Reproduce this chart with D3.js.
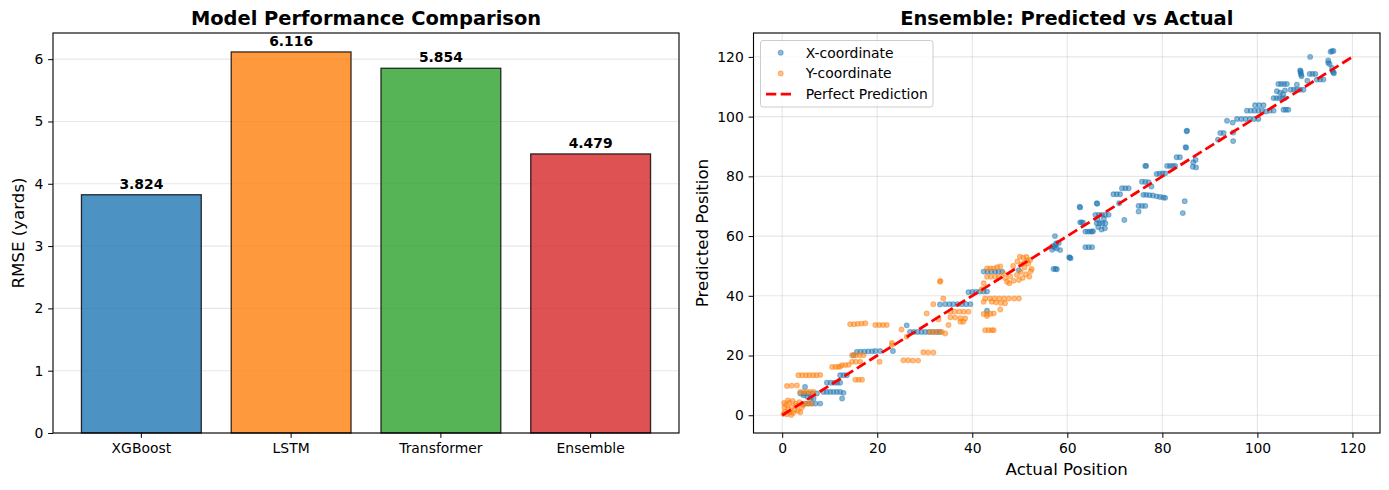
<!DOCTYPE html>
<html>
<head>
<meta charset="utf-8">
<script src="https://cdn.jsdelivr.net/npm/d3@7"></script>
<style>
body { margin: 0; background: #fff; }
text { font-family: "DejaVu Sans", sans-serif; fill: #000; }
.tick text { font-size: 13.9px; }
.grid line { stroke: #b0b0b0; stroke-opacity: 0.3; stroke-width: 1.1px; }
.title { font-size: 19.44px; font-weight: bold; }
.axisLabel { font-size: 16.67px; }
.barLabel { font-size: 13.9px; font-weight: bold; }
</style>
</head>
<body>
<div id="THE_CONTAINER"></div>
<script>

const models = ["XGBoost", "LSTM", "Transformer", "Ensemble"];
const rmse = [3.824, 6.116, 5.854, 4.479];
const barColors = ["#1f77b4", "#ff7f0e", "#2ca02c", "#d62728"];
const rmseTicks = [0, 1, 2, 3, 4, 5, 6];
const posTicks = [0, 20, 40, 60, 80, 100, 120];

// [actual, predicted] — X coordinate
const xCoord = [
  [4.8,3.9],[5.5,3.9],[6.2,3.9],[7.0,3.9],[8.0,3.9],
  [4.5,6.7],[5.3,6.2],[6.0,5.8],[6.6,5.6],
  [3.8,7.3],[4.6,7.3],[5.5,7.3],[6.4,7.3],[7.3,7.3],[4.8,9.5],
  [8.7,7.8],[9.4,7.8],[10.1,7.8],[10.8,7.8],[11.5,7.8],[12.2,7.8],[12.9,7.5],[12.6,5.6],
  [9.4,10.9],[10.2,10.9],[11.0,10.9],[11.6,10.9],[12.2,10.9],
  [12.2,13.4],[12.9,13.4],[13.6,13.4],[15.0,20.1],
  [15.7,21.2],[16.5,21.3],[17.3,21.3],[18.1,21.4],[18.9,21.4],[19.6,21.5],[20.6,21.5],[23.3,21.5],
  [26.2,30.1],
  [26.9,27.9],[27.7,27.9],[28.5,27.9],[29.3,27.9],[30.1,27.9],[30.9,27.9],[31.7,27.9],[32.5,27.9],[33.2,27.9],
  [33.2,37.1],[34.3,37.2],[35.2,37.2],[36.0,37.2],[36.9,37.2],[37.8,37.2],[38.7,37.2],[39.6,37.2],
  [39.2,41.2],[40.0,41.3],[40.8,41.3],[41.6,41.4],[42.4,41.4],[43.1,41.4],[43.1,35.0],
  [42.4,48.1],[43.2,48.1],[44.0,48.1],[44.8,48.1],[45.5,48.1],[46.3,48.1],[49.8,48.6],
  [56.8,55.4],[57.3,56.2],[57.8,55.8],[58.5,55.3],[57.5,57.0],[56.9,56.6],[58.2,57.7],
  [57.4,60.0],[57.7,57.6],[57.1,49.0],[57.5,49.0],[57.8,48.9],
  [60.5,52.8],[60.7,52.6],[60.4,52.9],[62.6,69.8],[62.7,69.6],
  [62.7,64.6],[63.0,64.6],[63.3,64.5],
  [63.8,61.5],[64.3,61.5],[64.8,61.5],[65.2,61.5],[65.4,61.6],
  [63.8,56.3],[64.5,56.3],[65.2,56.3],[66.2,71.0],[66.3,70.8],
  [65.9,67.1],[66.6,67.1],[67.3,67.1],[68.0,67.1],[68.7,67.1],
  [66.2,64.3],[66.8,64.3],[67.4,64.3],[68.0,64.3],
  [66.5,63.0],[67.2,62.2],[67.9,62.6],[66.4,65.5],[67.7,65.8],
  [69.7,74.0],[70.4,74.0],[71.1,74.0],[70.9,71.0],
  [71.5,76.0],[72.2,76.0],[72.9,76.0],[72.0,65.4],
  [75.0,70.1],[75.7,70.1],[76.4,70.1],[75.0,68.2],
  [75.7,78.2],[76.4,78.1],[77.1,78.0],[76.4,83.5],[76.6,83.5],[77.7,76.6],
  [76.0,73.8],[76.6,73.8],[77.3,73.7],[78.0,73.6],[78.8,73.3],[79.5,73.1],[80.2,72.9],[80.6,72.8],
  [78.8,80.8],[79.4,80.9],[80.0,81.0],[80.6,81.0],
  [81.0,83.5],[81.6,83.5],[82.2,83.5],[82.7,83.5],[83.0,86.4],[83.7,86.4],
  [84.7,71.7],[84.3,67.7],[85.2,95.3],[85.1,95.1],[84.9,89.8],[85.0,89.6],
  [86.5,84.7],[86.4,83.2],[87.1,83.0],[87.0,85.5],
  [91.7,92.3],[92.2,94.5],[92.9,94.5],[94.9,94.7],[94.9,91.8],[93.6,98.6],[94.8,98.0],
  [95.7,99.2],[96.6,99.2],[97.5,99.2],[98.4,99.2],[99.3,99.2],[100.2,99.2],
  [97.8,102.0],[98.6,102.0],[99.4,102.0],[100.2,102.0],[101.0,102.0],[101.8,101.7],[102.6,102.0],[103.4,102.0],
  [99.5,103.8],[100.4,103.8],[101.3,103.8],
  [103.4,106.2],[104.0,106.2],[104.6,106.2],[105.2,106.2],[105.8,106.2],
  [105.5,102.3],[106.0,102.3],[106.5,102.3],
  [104.1,108.5],[104.8,108.0],[105.4,107.5],[105.8,108.8],
  [104.4,110.9],[105.0,110.9],[105.6,110.9],[106.2,110.9],
  [107.0,109.0],[107.7,109.0],[108.3,109.0],[109.0,109.0],[109.7,109.0],[108.3,110.7],
  [109.1,115.2],[109.1,114.6],[109.2,114.0],[109.3,113.5],[109.0,115.5],
  [111.0,114.3],[111.6,114.3],[112.2,114.3],
  [110.5,112.0],[112.5,112.4],[113.2,112.4],[113.9,112.4],
  [111.1,120.0],[114.9,118.8],[114.9,118.0],[115.2,117.6],[115.7,116.3],
  [115.7,121.9],[116.0,122.0],[115.4,121.7],[116.0,114.8],[115.8,115.3],[116.1,114.5]
];

// [actual, predicted] — Y coordinate
const yCoord = [
  [0.3,0.5],[0.6,1.2],[1.0,0.3],[1.3,2.0],[1.6,1.0],[2.0,2.8],[2.3,0.8],[2.6,1.8],[3.0,3.2],[3.3,1.5],
  [0.8,3.5],[1.5,4.2],[2.2,4.8],[3.6,4.4],[4.1,2.6],[0.5,2.6],[1.9,0.1],[2.8,3.9],[3.8,1.0],[4.4,3.4],
  [1.2,5.0],[0.4,4.1],[4.8,3.9],[5.5,3.9],[6.2,3.9],
  [3.8,7.8],[4.5,7.8],[5.2,7.8],[5.9,7.8],[6.6,7.8],
  [1.0,9.8],[2.0,9.9],[3.1,10.0],
  [3.4,13.4],[4.2,13.4],[5.0,13.4],[5.7,13.4],[6.5,13.4],[7.2,13.4],[8.0,13.5],
  [10.5,16.2],[11.2,16.2],[11.8,16.2],[12.2,16.3],[12.6,16.8],[13.3,16.8],[14.0,16.9],
  [14.7,17.9],[15.5,17.9],[16.4,17.9],
  [14.7,20.1],[15.5,20.1],[16.3,20.1],[17.1,20.1],
  [15.4,11.9],[16.1,11.9],[16.8,11.9],
  [14.3,30.5],[15.1,30.5],[15.9,30.6],[16.7,30.7],[17.5,30.8],
  [19.6,30.2],[20.4,30.2],[21.2,30.2],[22.0,30.2],
  [20.5,17.9],[23.1,23.5],[23.1,24.2],[25.1,28.7],[26.2,26.3],
  [25.5,18.4],[26.5,18.4],[27.5,18.3],[28.6,18.3],
  [29.7,21.1],[30.7,21.0],[31.8,21.0],
  [31.1,27.9],[31.9,27.9],[32.8,27.9],[33.6,27.9],[34.3,27.4],[35.0,30.2],
  [30.4,34.1],[31.8,37.2],[33.9,39.1],[32.9,32.1],[33.2,44.7],[33.3,45.0],
  [35.4,34.7],[36.3,34.7],[37.3,34.7],[38.2,34.7],[39.2,34.7],
  [35.4,32.8],[36.4,32.7],[37.5,32.5],[38.5,32.4],[37.5,31.3],[38.1,31.3],
  [42.4,38.0],[42.4,44.2],[42.0,42.2],
  [42.7,39.1],[43.7,39.1],[44.7,39.1],[45.7,39.1],[46.7,39.1],[47.7,39.1],[48.8,39.1],[49.8,39.1],
  [44.1,38.0],[45.0,37.8],[46.0,37.6],[46.9,37.5],[45.9,35.4],
  [42.4,33.9],[43.1,33.9],[43.8,34.0],[44.5,34.1],[43.1,33.2],
  [42.7,28.5],[43.4,28.5],[44.1,28.5],[44.5,28.5],
  [43.1,49.2],[43.8,49.2],[44.5,49.2],[45.2,49.6],[45.9,49.8],
  [43.1,46.4],[43.9,46.4],[44.8,46.4],[45.6,46.4],
  [46.5,47.6],[47.3,44.7],[48.0,46.5],[48.7,45.0],[49.4,47.0],[47.8,44.2],[46.9,46.0],
  [48.6,50.0],[49.5,51.5],[50.0,53.1],[50.7,52.8],[51.4,53.0],[52.2,52.0],[50.3,50.5],[51.0,49.5],
  [51.8,50.8],[52.5,49.0],[50.2,48.0],[51.3,47.2],[52.0,46.4],[50.6,46.0],[49.8,45.3],[51.6,51.8],
  [52.3,48.2],[50.9,51.0]
];

const perfectLine = [[0, 0], [120, 120]];

const W = 1389, H = 490;
const svg = d3.select("#THE_CONTAINER").append("svg")
  .attr("width", W).attr("height", H);

const tickLen = 4.86, tickPad = 4.86;

// ---------- left: bar chart ----------
const L = { left: 53, right: 679, top: 33, bottom: 433 };
const xb = d3.scaleBand().domain(models).range([L.left, L.right])
  .paddingInner(0.2).paddingOuter(0.19);
const yb = d3.scaleLinear().domain([0, 6.42]).range([L.bottom, L.top]);

const gl = svg.append("g");
gl.append("g").attr("class", "grid")
  .selectAll("line").data(rmseTicks).enter().append("line")
  .attr("x1", L.left).attr("x2", L.right)
  .attr("y1", d => yb(d)).attr("y2", d => yb(d));

gl.selectAll(".bar").data(models).enter().append("rect")
  .attr("class", "bar")
  .attr("x", d => xb(d))
  .attr("width", xb.bandwidth())
  .attr("y", (d, i) => yb(rmse[i]))
  .attr("height", (d, i) => yb(0) - yb(rmse[i]))
  .attr("fill", (d, i) => barColors[i])
  .attr("fill-opacity", 0.8)
  .attr("stroke", "#000")
  .attr("stroke-opacity", 0.8)
  .attr("stroke-width", 1.3);

gl.selectAll(".barLabel").data(models).enter().append("text")
  .attr("class", "barLabel")
  .attr("x", d => xb(d) + xb.bandwidth() / 2)
  .attr("y", (d, i) => yb(rmse[i] + 0.05) - 3)
  .attr("text-anchor", "middle")
  .text((d, i) => rmse[i].toFixed(3));

gl.append("g").attr("transform", `translate(0,${L.bottom})`)
  .call(d3.axisBottom(xb).tickSize(tickLen).tickPadding(tickPad).tickSizeOuter(0))
  .call(g => g.select(".domain").remove());
gl.append("g").attr("transform", `translate(${L.left},0)`)
  .call(d3.axisLeft(yb).tickValues(rmseTicks).tickFormat(d3.format("d"))
    .tickSize(tickLen).tickPadding(tickPad).tickSizeOuter(0))
  .call(g => g.select(".domain").remove());

gl.append("rect").attr("x", L.left).attr("y", L.top)
  .attr("width", L.right - L.left).attr("height", L.bottom - L.top)
  .attr("fill", "none").attr("stroke", "#000").attr("stroke-width", 1.11);

gl.append("text").attr("class", "title")
  .attr("x", (L.left + L.right) / 2).attr("y", 25)
  .attr("text-anchor", "middle").text("Model Performance Comparison");
gl.append("text").attr("class", "axisLabel")
  .attr("transform", `translate(24,${(L.top + L.bottom) / 2}) rotate(-90)`)
  .attr("text-anchor", "middle").text("RMSE (yards)");

// ---------- right: scatter ----------
const R = { left: 753.5, right: 1380, top: 33, bottom: 433 };
const xs = d3.scaleLinear().domain([-6.04, 125.8]).range([R.left, R.right]);
const ys = d3.scaleLinear().domain([-5.94, 128.0]).range([R.bottom, R.top]);

const gr = svg.append("g");
const grid = gr.append("g").attr("class", "grid");
grid.selectAll(".gx").data(posTicks).enter().append("line")
  .attr("x1", d => xs(d)).attr("x2", d => xs(d))
  .attr("y1", R.top).attr("y2", R.bottom);
grid.selectAll(".gy").data(posTicks).enter().append("line")
  .attr("x1", R.left).attr("x2", R.right)
  .attr("y1", d => ys(d)).attr("y2", d => ys(d));

const plot = gr.append("g");
function drawPoints(data, color) {
  plot.append("g").selectAll("circle").data(data).enter().append("circle")
    .attr("cx", d => xs(d[0])).attr("cy", d => ys(d[1]))
    .attr("r", 2.4)
    .attr("fill", color).attr("fill-opacity", 0.5)
    .attr("stroke", color).attr("stroke-opacity", 0.5).attr("stroke-width", 1.1);
}
drawPoints(xCoord, "#1f77b4");
drawPoints(yCoord, "#ff7f0e");

plot.append("path")
  .datum(perfectLine)
  .attr("d", d3.line().x(d => xs(d[0])).y(d => ys(d[1])))
  .attr("fill", "none").attr("stroke", "red")
  .attr("stroke-width", 2.78).attr("stroke-dasharray", "10.3,4.4");

gr.append("g").attr("transform", `translate(0,${R.bottom})`)
  .call(d3.axisBottom(xs).tickValues(posTicks).tickSize(tickLen).tickPadding(tickPad).tickSizeOuter(0))
  .call(g => g.select(".domain").remove());
gr.append("g").attr("transform", `translate(${R.left},0)`)
  .call(d3.axisLeft(ys).tickValues(posTicks).tickSize(tickLen).tickPadding(tickPad).tickSizeOuter(0))
  .call(g => g.select(".domain").remove());

gr.append("rect").attr("x", R.left).attr("y", R.top)
  .attr("width", R.right - R.left).attr("height", R.bottom - R.top)
  .attr("fill", "none").attr("stroke", "#000").attr("stroke-width", 1.11);

gr.append("text").attr("class", "title")
  .attr("x", (R.left + R.right) / 2).attr("y", 25)
  .attr("text-anchor", "middle").text("Ensemble: Predicted vs Actual");
gr.append("text").attr("class", "axisLabel")
  .attr("x", (R.left + R.right) / 2).attr("y", 475)
  .attr("text-anchor", "middle").text("Actual Position");
gr.append("text").attr("class", "axisLabel")
  .attr("transform", `translate(708,${(R.top + R.bottom) / 2}) rotate(-90)`)
  .attr("text-anchor", "middle").text("Predicted Position");

// legend
const leg = gr.append("g").attr("transform", "translate(760.5,40.5)");
leg.append("rect").attr("width", 172.5).attr("height", 66.5).attr("rx", 2.5)
  .attr("fill", "#fff").attr("fill-opacity", 0.8)
  .attr("stroke", "#cccccc").attr("stroke-width", 1);
const legItems = [
  { label: "X-coordinate", color: "#1f77b4", kind: "dot" },
  { label: "Y-coordinate", color: "#ff7f0e", kind: "dot" },
  { label: "Perfect Prediction", color: "red", kind: "line" }
];
legItems.forEach((it, i) => {
  const cy = 12.2 + i * 20.7;
  if (it.kind === "dot") {
    leg.append("circle").attr("cx", 20.2).attr("cy", cy).attr("r", 2.4)
      .attr("fill", it.color).attr("fill-opacity", 0.5)
      .attr("stroke", it.color).attr("stroke-opacity", 0.5).attr("stroke-width", 1.1);
  } else {
    leg.append("line").attr("x1", 5.5).attr("x2", 33).attr("y1", cy).attr("y2", cy)
      .attr("stroke", it.color).attr("stroke-width", 2.78).attr("stroke-dasharray", "10.3,4.4");
  }
  leg.append("text").attr("x", 45.2).attr("y", cy).attr("dy", "0.35em")
    .style("font-size", "13.9px").text(it.label);
});

</script>
</body>
</html>
